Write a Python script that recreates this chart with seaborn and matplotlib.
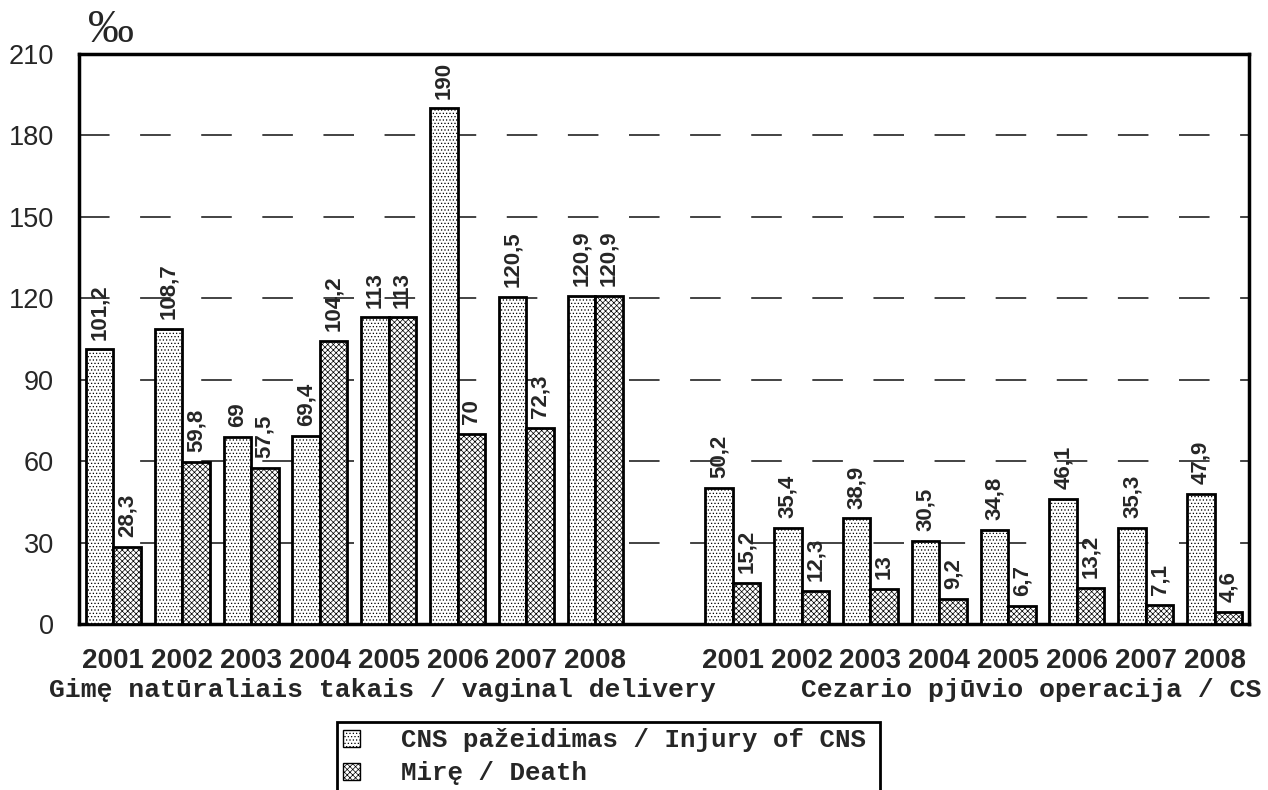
import numpy as np
import pandas as pd
import matplotlib.pyplot as plt
from matplotlib.patches import Patch
import seaborn as sns

# Data
years = ["2001", "2002", "2003", "2004", "2005", "2006", "2007", "2008"]
cns_vaginal = [101.2, 108.7, 69, 69.4, 113, 190, 120.5, 120.9]
death_vaginal = [28.3, 59.8, 57.5, 104.2, 113, 70, 72.3, 120.9]
cns_cs = [50.2, 35.4, 38.9, 30.5, 34.8, 46.1, 35.3, 47.9]
death_cs = [15.2, 12.3, 13, 9.2, 6.7, 13.2, 7.1, 4.6]
series = ["CNS pažeidimas / Injury of CNS", "Mirę / Death"]
group_labels = ["Gimę natūraliais takais / vaginal delivery",
                "Cezario pjūvio operacija / CS"]

rows = []
for i, y in enumerate(years):
    rows.append(("V" + y, series[0], cns_vaginal[i]))
    rows.append(("V" + y, series[1], death_vaginal[i]))
for i, y in enumerate(years):
    rows.append(("C" + y, series[0], cns_cs[i]))
    rows.append(("C" + y, series[1], death_cs[i]))
df = pd.DataFrame(rows, columns=["slot", "series", "value"])
order = ["V" + y for y in years] + ["gap"] + ["C" + y for y in years]

sns.set_style("white")
plt.rcParams["lines.scale_dashes"] = False
plt.rcParams["hatch.linewidth"] = 0.5
plt.rcParams["font.family"] = ["Liberation Sans", "DejaVu Sans"]

fig = plt.figure(figsize=(12.68, 7.9), dpi=100)
ax = fig.add_axes([79 / 1268, 1 - 624 / 790, (1249 - 79) / 1268, (624 - 54) / 790])

sns.barplot(data=df, x="slot", y="value", hue="series", order=order,
            hue_order=series, palette=["white", "white"], width=0.8,
            edgecolor="black", linewidth=2, legend=False, ax=ax, zorder=3)

hatches = [".....", "xxxxxx"]
for cont, h in zip(ax.containers, hatches):
    for bar in cont:
        bar.set_facecolor("white")
        bar.set_hatch(h)
    labels = [f"{v:g}".replace(".", ",") for v in cont.datavalues]
    ax.bar_label(cont, labels=labels, rotation=90, padding=7,
                 fontsize=16, fontweight="bold")

ax.set_ylim(0, 210)
ax.set_yticks(range(0, 211, 30))
ax.yaxis.grid(True, color="#222222", linewidth=1.2, linestyle=(0, (22, 22)))
ax.xaxis.grid(False)
ax.set_axisbelow(True)
ax.tick_params(axis="y", length=0, pad=18, labelsize=19.5)
ax.tick_params(axis="x", length=0, pad=17)
ax.set_xticks(range(len(order)))
ax.set_xticklabels(years + [""] + years, fontsize=20, fontweight="bold")
ax.set_xlabel("")
ax.set_ylabel("")
for s in ax.spines.values():
    s.set_color("black")
    s.set_linewidth(2.5)

# per mille sign above y-axis
fig.text(88 / 1268, 1 - 31 / 790, "‰", fontsize=33, va="center",
         family=["Liberation Serif", "DejaVu Serif"])

# group labels
fig.text(382 / 1268, 1 - 690 / 790, group_labels[0], ha="center", va="center",
         fontsize=19, fontweight="bold", family=["Liberation Mono", "DejaVu Sans Mono"])
fig.text(1031 / 1268, 1 - 690 / 790, group_labels[1], ha="center", va="center",
         fontsize=19, fontweight="bold", family=["Liberation Mono", "DejaVu Sans Mono"])

handles = [Patch(facecolor="white", edgecolor="black", hatch=h, linewidth=1)
           for h in hatches]
leg = fig.legend(handles, series, loc="upper left",
                 bbox_to_anchor=(337 / 1268, 1 - 722 / 790, (880 - 337) / 1268, 0),
                 mode="expand", borderaxespad=0, fancybox=False, framealpha=1,
                 edgecolor="black", handlelength=0.65, handleheight=0.6,
                 handletextpad=1.6, borderpad=0.25, labelspacing=0.35,
                 prop={"family": "Liberation Mono", "weight": "bold", "size": 18.5})
leg.get_frame().set_linewidth(2)

fig.savefig("out.png", dpi=100)
